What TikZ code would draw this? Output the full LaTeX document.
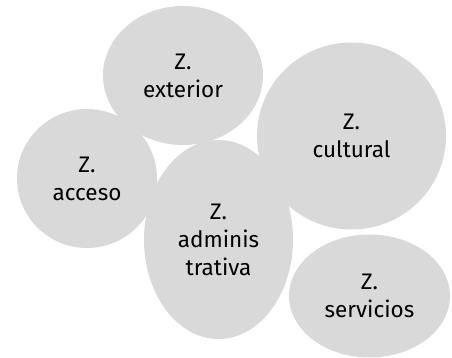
\documentclass[tikz,border=0pt]{standalone}
\usepackage{fontspec}
\setmainfont{Fira Sans}
\usetikzlibrary{shapes.geometric}
\definecolor{zonefill}{HTML}{D9D9D9}
\tikzset{
  zone/.style={ellipse, fill=zonefill, draw=none, inner sep=0pt, align=center,
    font=\fontsize{22.5}{28}\selectfont, text=black}
}
\begin{document}
\begin{tikzpicture}[x=1pt,y=-1pt]
\useasboundingbox (0,0) rectangle (452,358);
\node[zone, minimum width=140pt, minimum height=139pt] (acceso) at (87,178.5) {Z.\\acceso};
\node[zone, minimum width=160pt, minimum height=139pt] (exterior) at (183,75.5) {Z.\\exterior};
\node[zone, minimum width=189pt, minimum height=187pt] (cultural) at (351.5,136) {Z.\\cultural};
\node[zone, minimum width=149pt, minimum height=199pt] (admin) at (218.5,239.5) {Z.\\adminis\\trativa};
\node[zone, minimum width=161pt, minimum height=123pt] (servicios) at (369.5,296) {Z.\\servicios};
\end{tikzpicture}
\end{document}
